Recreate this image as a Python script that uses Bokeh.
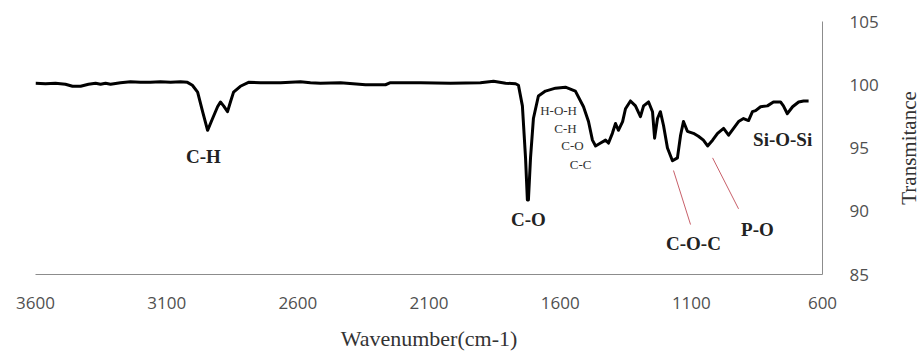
import math
from bokeh.plotting import figure
from bokeh.layouts import row
from bokeh.models import Range1d, FixedTicker, ColumnDataSource, LabelSet, Label
from bokeh.core.properties import value
from bokeh.embed import file_html
from bokeh.resources import INLINE

# Spectrum (wavenumber in cm-1, transmittance in %)
wavenumber = [3600, 3562, 3524, 3486, 3459, 3428, 3398, 3371, 3352, 3333, 3314, 3276, 3238, 3200,
              3162, 3124, 3085, 3047, 3021, 3002, 2982, 2963, 2944, 2925, 2906, 2895, 2883, 2868,
              2857, 2845, 2819, 2788, 2742, 2666, 2590, 2552, 2514, 2437, 2342, 2266, 2247, 2132,
              2018, 1904, 1854, 1808, 1770, 1759, 1744, 1732, 1725, 1721, 1713, 1702, 1683, 1656,
              1618, 1580, 1542, 1511, 1492, 1477, 1465, 1446, 1427, 1416, 1401, 1389, 1378, 1362,
              1351, 1332, 1313, 1294, 1282, 1263, 1248, 1240, 1229, 1218, 1206, 1191, 1172, 1153,
              1141, 1130, 1115, 1092, 1073, 1054, 1038, 1019, 1000, 977, 958, 939, 920, 901, 882,
              867, 855, 836, 810, 787, 760, 749, 734, 714, 691, 672, 653]
transmittance = [100.12, 100.08, 100.12, 100.04, 99.88, 99.88, 100.04, 100.12, 100.04, 100.12, 100.04,
                 100.16, 100.23, 100.19, 100.19, 100.23, 100.19, 100.23, 100.19, 99.96, 99.42, 97.87,
                 96.40, 97.33, 98.26, 98.64, 98.33, 97.87, 98.64, 99.42, 99.88, 100.19, 100.16, 100.16,
                 100.23, 100.16, 100.12, 100.16, 100.0, 100.0, 100.16, 100.16, 100.12, 100.16, 100.27,
                 100.12, 100.08, 99.96, 98.33, 94.22, 90.89, 90.89, 94.22, 97.33, 99.11, 99.50, 99.73,
                 99.81, 99.50, 98.26, 97.09, 95.62, 95.16, 95.39, 95.62, 95.39, 96.16, 96.94, 96.40,
                 97.09, 98.10, 98.72, 98.33, 97.48, 98.33, 98.64, 97.87, 95.78, 97.33, 97.87, 96.78,
                 95.0, 93.99, 94.22, 96.01, 97.09, 96.32, 96.16, 95.93, 95.62, 95.16, 95.62, 96.16,
                 96.55, 96.01, 96.55, 97.09, 97.33, 97.17, 97.87, 97.95, 98.26, 98.33, 98.64, 98.64,
                 98.33, 97.71, 98.26, 98.64, 98.72, 98.72]
assert len(wavenumber) == len(transmittance)

x_ticks = [3600, 3100, 2600, 2100, 1600, 1100, 600]
y_ticks = [85, 90, 95, 100, 105]
y_title = "Transmitance"
x_title = "Wavenumber(cm-1)"

# Bold band labels
band_labels = ["C-H", "C-O", "C-O-C", "P-O", "Si-O-Si"]
band_x = [2960, 1721, 1092, 848, 752]
band_y = [94.30, 89.34, 87.48, 88.57, 95.70]

# Small labels for the 1600 cm-1 region
small_labels = ["H-O-H", "C-H", "C-O", "C-C"]
small_x = [1606, 1580, 1553, 1522]
small_y = [97.95, 96.55, 95.16, 93.68]

# Leader lines (x0, y0, x1, y1)
lead_x0 = [1168, 1019]
lead_y0 = [93.22, 94.22]
lead_x1 = [1103, 920]
lead_y1 = [88.95, 90.19]

p = figure(width=893, height=353, output_backend="svg", toolbar_location=None,
           x_range=Range1d(3600, 600), y_range=Range1d(85, 105),
           y_axis_location="right",
           min_border_left=35, min_border_right=71, min_border_top=21, min_border_bottom=74)
p.outline_line_color = None
p.xgrid.visible = False
p.ygrid.visible = False
p.background_fill_color = "white"
p.border_fill_color = "white"

for ax in (p.xaxis[0], p.yaxis[0]):
    ax.axis_line_color = "#8c8c8c"
    ax.axis_line_width = 1
    ax.major_tick_line_color = None
    ax.minor_tick_line_color = None
    ax.major_label_text_font = "Open Sans"
    ax.major_label_text_font_size = "17px"
    ax.major_label_text_color = "#505050"
    ax.axis_label_text_font = "Liberation Serif"
    ax.axis_label_text_font_size = "22px"
    ax.axis_label_text_font_style = "normal"
    ax.axis_label_text_color = "#333333"

p.xaxis.ticker = FixedTicker(ticks=x_ticks)
p.yaxis.ticker = FixedTicker(ticks=y_ticks)
p.xaxis.major_label_standoff = 16
p.yaxis.major_label_standoff = 21

p.xaxis.axis_label = x_title
p.xaxis.axis_label_standoff = 14

p.line(wavenumber, transmittance, line_color="black", line_width=3, line_join="round")

p.segment(x0=lead_x0, y0=lead_y0, x1=lead_x1, y1=lead_y1, line_color="#c8606a", line_width=1)

src_b = ColumnDataSource(dict(x=band_x, y=band_y, t=band_labels))
p.add_layout(LabelSet(x="x", y="y", text="t", source=src_b, text_align="center",
                      text_baseline="middle", text_font=value("Liberation Serif"),
                      text_font_style="bold", text_font_size="19px", text_color="#222222"))

src_s = ColumnDataSource(dict(x=small_x, y=small_y, t=small_labels))
p.add_layout(LabelSet(x="x", y="y", text="t", source=src_s, text_align="center",
                      text_baseline="middle", text_font=value("Liberation Serif"),
                      text_font_size="13px", text_color="#333333"))

# Narrow side strip holding the y-axis title (reads bottom to top)
side = figure(width=30, height=353, output_backend="svg", toolbar_location=None,
              x_range=Range1d(0, 1), y_range=Range1d(85, 105),
              x_axis_location=None, y_axis_location=None,
              min_border_left=0, min_border_right=0, min_border_top=21, min_border_bottom=74)
side.outline_line_color = None
side.xgrid.visible = False
side.ygrid.visible = False
side.border_fill_color = "white"
side.add_layout(Label(x=0.5, y=95, text=y_title, angle=math.pi / 2,
                      text_align="center", text_baseline="middle",
                      text_font="Liberation Serif", text_font_size="21px", text_color="#333333"))

layout = row(p, side, spacing=0)
open("out.html", "w").write(file_html(layout, INLINE))
